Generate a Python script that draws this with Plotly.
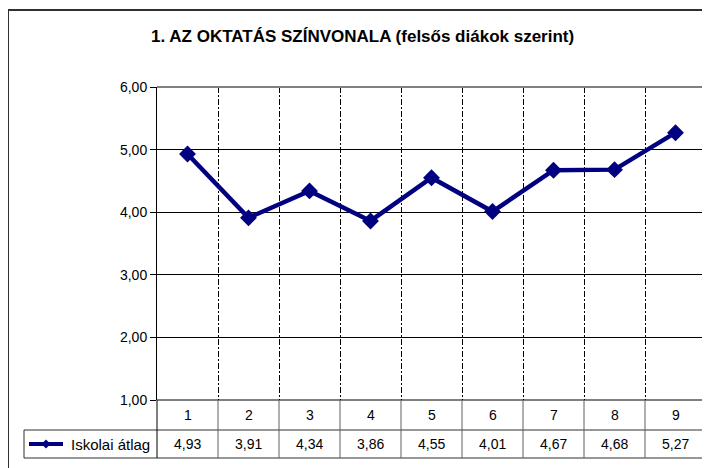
import plotly.graph_objects as go

categories = ["1", "2", "3", "4", "5", "6", "7", "8", "9"]
values = [4.93, 3.91, 4.34, 3.86, 4.55, 4.01, 4.67, 4.68, 5.27]
series_name = "Iskolai átlag"
title_text = "1. AZ OKTATÁS SZÍNVONALA (felsős diákok szerint)"
y_ticks = [1, 2, 3, 4, 5, 6]

# page body adds an 8px margin, so work in shifted coordinates
OFF = 8
FIG_W, FIG_H = 710 - OFF, 468 - OFF
L, R, T, B = 157 - OFF, 706 - OFF, 87 - OFF, 400 - OFF
W, H = R - L, B - T
NAVY = "#000080"
FONT = "Liberation Sans, Arial, sans-serif"

def px_x(px):
    return (px - OFF - L) / W

def px_y(py):
    return (B - (py - OFF)) / H

n = len(categories)
xs = list(range(n))

fig = go.Figure()
fig.add_trace(go.Scatter(
    x=xs, y=values, mode="lines+markers", name=series_name,
    line=dict(color=NAVY, width=4.5),
    marker=dict(symbol="diamond", size=13, color=NAVY),
    showlegend=False, cliponaxis=False,
))

shapes = []
# outer chart frame (left and top visible)
shapes.append(dict(type="line", xref="paper", yref="paper", x0=px_x(8), x1=px_x(8), y0=px_y(10), y1=px_y(480), line=dict(color="#303030", width=2)))
shapes.append(dict(type="line", xref="paper", yref="paper", x0=px_x(8), x1=px_x(720), y0=px_y(10), y1=px_y(10), line=dict(color="#303030", width=2)))
# plot-area border top and right (gray)
shapes.append(dict(type="line", xref="paper", yref="paper", x0=0, x1=1, y0=1, y1=1, line=dict(color="#808080", width=2)))
shapes.append(dict(type="line", xref="paper", yref="paper", x0=1, x1=1, y0=1, y1=0, line=dict(color="#808080", width=2)))

# data table
row1_bot = 430
row2_bot = 458
tbl = dict(color="#303030", width=1)
shapes.append(dict(type="line", xref="paper", yref="paper", x0=0, x1=1, y0=0, y1=0, line=dict(color="black", width=1)))
shapes.append(dict(type="line", xref="paper", yref="paper", x0=px_x(24), x1=1, y0=px_y(row1_bot), y1=px_y(row1_bot), line=tbl))
shapes.append(dict(type="line", xref="paper", yref="paper", x0=px_x(24), x1=1, y0=px_y(row2_bot), y1=px_y(row2_bot), line=tbl))
shapes.append(dict(type="line", xref="paper", yref="paper", x0=px_x(24), x1=px_x(24), y0=px_y(row1_bot), y1=px_y(row2_bot), line=tbl))
for i in range(n + 1):
    shapes.append(dict(type="line", xref="paper", yref="paper", x0=i / n, x1=i / n,
                       y0=0, y1=px_y(row2_bot), line=dict(color="#606060" if 0 < i else "black", width=1)))
# legend key in table
key_y = px_y(444)
shapes.append(dict(type="line", xref="paper", yref="paper", x0=px_x(29), x1=px_x(63), y0=key_y, y1=key_y, line=dict(color=NAVY, width=4)))
cx, cy, d = 46, 444, 4.5
shapes.append(dict(type="path", xref="paper", yref="paper",
                   path=f"M {px_x(cx-d)} {px_y(cy)} L {px_x(cx)} {px_y(cy-d)} L {px_x(cx+d)} {px_y(cy)} L {px_x(cx)} {px_y(cy+d)} Z",
                   fillcolor=NAVY, line=dict(color=NAVY, width=0)))

annotations = []
for i, (c, v) in enumerate(zip(categories, values)):
    annotations.append(dict(x=i, xref="x", y=px_y(415), yref="paper", text=c, showarrow=False,
                            font=dict(size=14, color="black", family=FONT), yanchor="middle"))
    annotations.append(dict(x=i, xref="x", y=px_y(444), yref="paper", text=f"{v:.2f}".replace(".", ","),
                            showarrow=False, font=dict(size=14, color="black", family=FONT), yanchor="middle"))
annotations.append(dict(x=px_x(69), xref="paper", y=px_y(444), yref="paper", text=series_name, showarrow=False,
                        xanchor="left", yanchor="middle", font=dict(size=15, color="black", family=FONT)))
annotations.append(dict(x=px_x(362), xref="paper", y=px_y(37), yref="paper", text=f"<b>{title_text}</b>",
                        showarrow=False, xanchor="center", yanchor="middle", font=dict(size=17, color="black", family=FONT)))

fig.update_layout(
    width=FIG_W, height=FIG_H,
    margin=dict(l=L, r=FIG_W - R, t=T, b=FIG_H - B, autoexpand=False),
    paper_bgcolor="white", plot_bgcolor="white",
    separators=", ",
    font=dict(family=FONT, color="black", size=14),
    shapes=shapes, annotations=annotations,
    xaxis=dict(range=[-0.5, n - 0.5], tickvals=[i + 0.5 for i in range(n - 1)], showticklabels=False,
               showgrid=True, gridcolor="black", gridwidth=1, griddash="6px,2px,2px,2px", zeroline=False,
               showline=False, ticks=""),
    yaxis=dict(range=[y_ticks[0], y_ticks[-1]], tickvals=y_ticks, tickformat=".2f",
               showgrid=True, gridcolor="black", gridwidth=1, zeroline=False,
               showline=True, linecolor="black", linewidth=1, ticks="outside", ticklen=6, tickcolor="black",
               tickfont=dict(size=14, family=FONT)),
)

fig.write_html("out.html")
